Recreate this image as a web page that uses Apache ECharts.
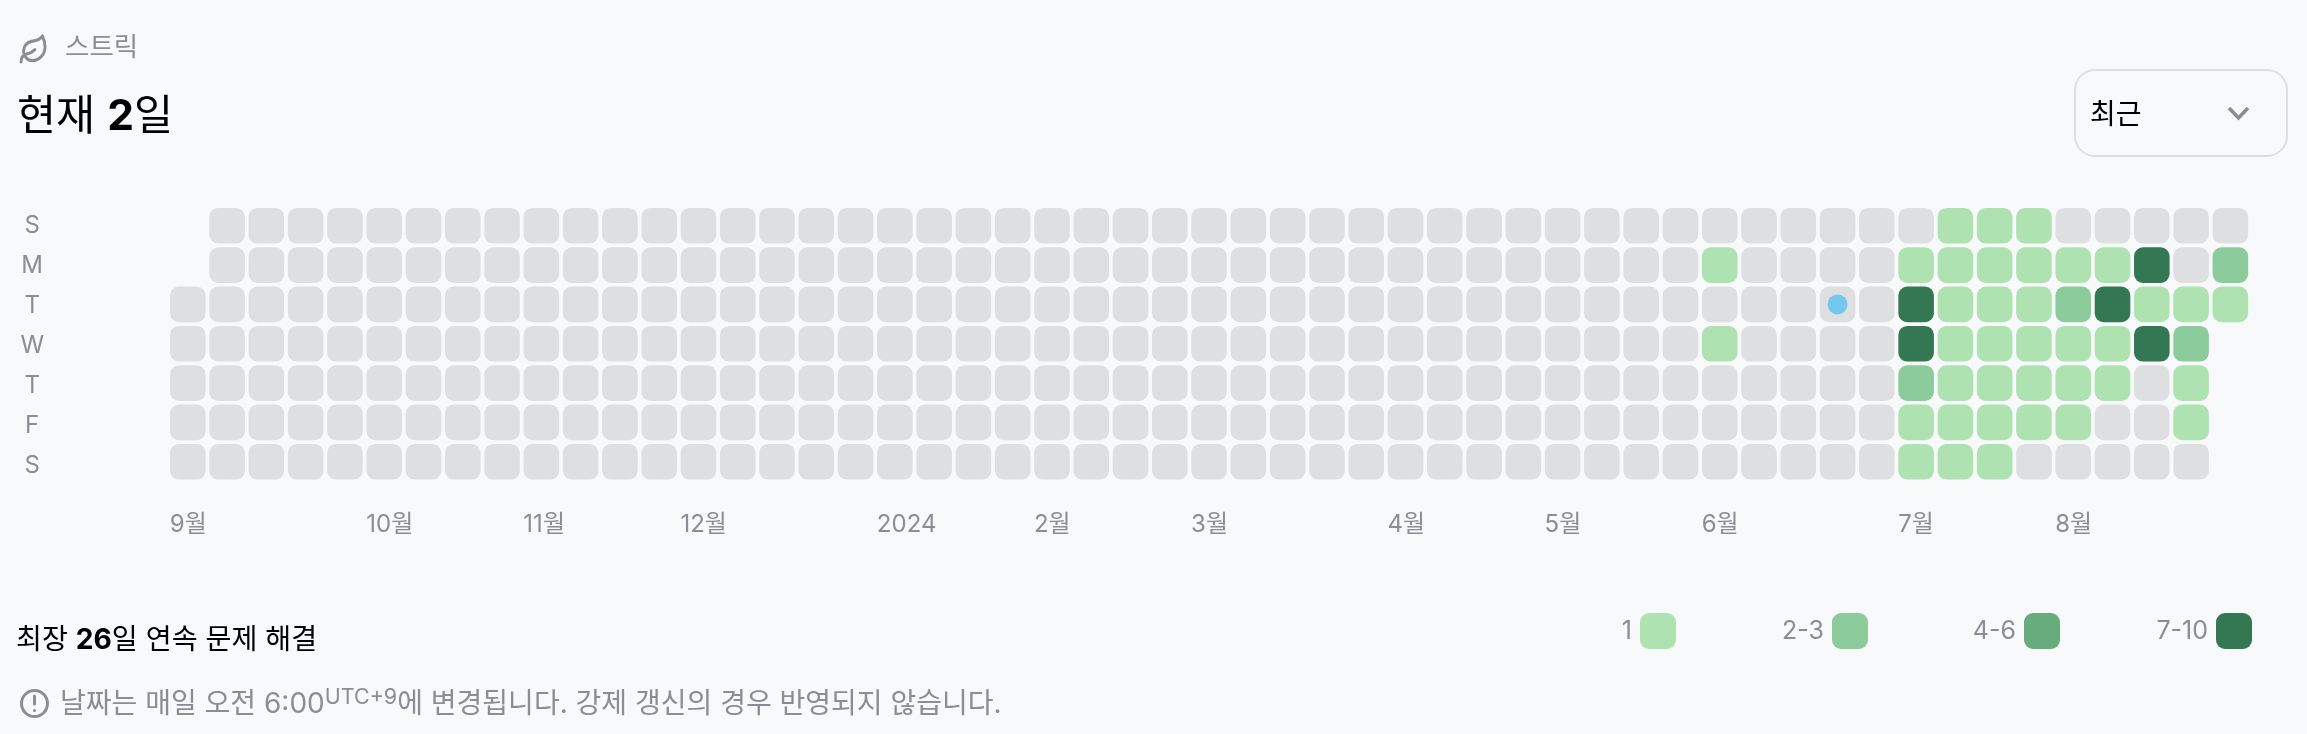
<!DOCTYPE html>
<html><head><meta charset="utf-8">
<style>html,body{margin:0;padding:0;background:#f8f9fa}#c{width:2307px;height:734px}</style>
<script src="https://cdn.jsdelivr.net/npm/echarts@6/dist/echarts.min.js"></script>
</head><body><div id="c"></div>
<script>
const weekdayLabels = ['S','M','T','W','T','F','S'];
const monthStarts = {0:'9월',5:'10월',9:'11월',13:'12월',18:'2024',22:'2월',26:'3월',31:'4월',35:'5월',39:'6월',44:'7월',48:'8월'};
const sunCounts = [null,0,0,0,0,0,0,0,0,0, 0,0,0,0,0,0,0,0,0,0, 0,0,0,0,0,0,0,0,0,0, 0,0,0,0,0,0,0,0,0,0, 0,0,0,0,0,1,1,1,0,0, 0,0,0];
const monCounts = [null,0,0,0,0,0,0,0,0,0, 0,0,0,0,0,0,0,0,0,0, 0,0,0,0,0,0,0,0,0,0, 0,0,0,0,0,0,0,0,0,1, 0,0,0,0,1,1,1,1,1,1, 7,0,2];
const tueCounts = [0,0,0,0,0,0,0,0,0,0, 0,0,0,0,0,0,0,0,0,0, 0,0,0,0,0,0,0,0,0,0, 0,0,0,0,0,0,0,0,0,0, 0,0,0,0,7,1,1,1,2,7, 1,1,1];
const wedCounts = [0,0,0,0,0,0,0,0,0,0, 0,0,0,0,0,0,0,0,0,0, 0,0,0,0,0,0,0,0,0,0, 0,0,0,0,0,0,0,0,0,1, 0,0,0,0,7,1,1,1,1,1, 7,2,null];
const thuCounts = [0,0,0,0,0,0,0,0,0,0, 0,0,0,0,0,0,0,0,0,0, 0,0,0,0,0,0,0,0,0,0, 0,0,0,0,0,0,0,0,0,0, 0,0,0,0,2,1,1,1,1,1, 0,1,null];
const friCounts = [0,0,0,0,0,0,0,0,0,0, 0,0,0,0,0,0,0,0,0,0, 0,0,0,0,0,0,0,0,0,0, 0,0,0,0,0,0,0,0,0,0, 0,0,0,0,1,1,1,1,1,0, 0,1,null];
const satCounts = [0,0,0,0,0,0,0,0,0,0, 0,0,0,0,0,0,0,0,0,0, 0,0,0,0,0,0,0,0,0,0, 0,0,0,0,0,0,0,0,0,0, 0,0,0,0,1,1,1,0,0,0, 0,0,null];
const today = [42, 2];
const levels = [
  {name:'0', min:0, max:0, color:'#dedfe1'},
  {name:'1', min:1, max:1, color:'#aee3b1'},
  {name:'2-3', min:2, max:3, color:'#8ccb9b'},
  {name:'4-6', min:4, max:6, color:'#68ac7e'},
  {name:'7-10', min:7, max:10, color:'#347853'}
];
const rows = [sunCounts,monCounts,tueCounts,wedCounts,thuCounts,friCounts,satCounts];
const weeks = sunCounts.map((_, i) => String(i));
const rowIds = weekdayLabels.map((_, i) => String(i));
const FONT = 'Inter, "Noto Sans CJK KR", sans-serif';
const GRAY = '#8b8d94';
echarts.graphic.registerShape('leaf', echarts.graphic.extendPath('M11 20A7 7 0 0 1 9.8 6.1C15.5 5 17 4.48 19 2c1 2 2 4.18 2 8 0 5.5-4.78 10-10 10Z M2 21c0-3 1.85-5.36 5.08-6C9.5 14.52 12 13 13 12', {}));
const series = levels.map(l => {
  const data = [];
  rows.forEach((r, y) => r.forEach((v, x) => { if (v !== null && v >= l.min && v <= l.max) data.push([x, y, v]); }));
  return {name:l.name, type:'scatter', symbol:'roundRect', symbolSize:35.6, data, itemStyle:{color:l.color, opacity:1}, silent:true};
});
series.push({name:'today', type:'scatter', symbol:'circle', symbolSize:20, data:[today], itemStyle:{color:'#74c7ee', opacity:1}, z:5, silent:true});
const legendRight = {'1':631,'2-3':439,'4-6':247,'7-10':55};
const legends = Object.keys(legendRight).map(n => ({
  data:[n], right:legendRight[n], top:613, align:'right', orient:'horizontal', padding:0,
  itemWidth:36, itemHeight:36, icon:'roundRect', selectedMode:false,
  itemStyle:{opacity:1},
  textStyle:{color:GRAY, fontSize:25, fontFamily:FONT, padding:[2,3,0,0]}
}));
const ringStyle = {stroke:GRAY, fill:'none', lineWidth:3, lineCap:'round', lineJoin:'round'};
const hiddenAxis = {axisLine:{show:false}, axisTick:{show:false}, splitLine:{show:false}};
const option = {
  backgroundColor:'#f8f9fa', animation:false,
  textStyle:{fontFamily:FONT},
  grid:[
    {left:168.2, top:206.1, width:2081.8, height:275.3, containLabel:false},
    {left:168.2, top:205.5, width:2081.8, height:280, containLabel:false}
  ],
  xAxis:[
    Object.assign({type:'category', gridIndex:0, data:weeks, position:'bottom',
      axisLabel:{interval:0, margin:31, hideOverlap:false, color:GRAY, fontSize:24, fontFamily:FONT,
        formatter:v => monthStarts[v] ? '{a|'+monthStarts[v]+'}' : '',
        rich:{a:{width:36, align:'left', color:GRAY, fontSize:24, fontFamily:FONT}}}}, hiddenAxis),
    {type:'category', gridIndex:1, data:weeks, show:false}
  ],
  yAxis:[
    Object.assign({type:'category', gridIndex:0, data:rowIds, inverse:true, axisLabel:{show:false}}, hiddenAxis),
    Object.assign({type:'category', gridIndex:1, data:weekdayLabels, inverse:true,
      axisLabel:{interval:0, margin:136, align:'center', color:GRAY, fontSize:24, fontFamily:FONT}}, hiddenAxis)
  ],
  legend:legends,
  series,
  graphic:[
    {type:'leaf', silent:true, x:18.5, y:33.3, scaleX:1.263, scaleY:1.368, style:{stroke:GRAY, fill:'none', lineWidth:2.3, lineCap:'round', lineJoin:'round'}},
    {type:'text', silent:true, x:65, y:48, style:{text:'스트릭', fill:GRAY, font:'26.5px '+FONT, verticalAlign:'middle'}},
    {type:'text', silent:true, x:17, y:117, style:{text:'{n|현재 }{b|2}{n|일}', verticalAlign:'middle', rich:{
      n:{fontSize:42.5, fontFamily:FONT, fill:'#000', fontWeight:400}, b:{fontSize:42.5, fontFamily:FONT, fill:'#000', fontWeight:700}}}},
    {type:'rect', silent:true, shape:{x:2075, y:70, width:212, height:86, r:20}, style:{fill:'none', stroke:'#dedfe1', lineWidth:2}},
    {type:'text', silent:true, x:2090, y:116, style:{text:'최근', fill:'#000', font:'28px '+FONT, verticalAlign:'middle'}},
    {type:'polyline', silent:true, shape:{points:[[2229,108],[2238.5,118],[2248,108]]}, style:{stroke:GRAY, fill:'none', lineWidth:3.6}},
    {type:'text', silent:true, x:16, y:641, style:{text:'{n|최장 }{b|26}{n|일 연속 문제 해결}', verticalAlign:'middle', rich:{
      n:{fontSize:28.2, fontFamily:FONT, fill:'#000', fontWeight:400}, b:{fontSize:28.2, fontFamily:FONT, fill:'#000', fontWeight:700}}}},
    {type:'circle', silent:true, shape:{cx:34.5, cy:703.5, r:13}, style:ringStyle},
    {type:'line', silent:true, shape:{x1:34.5, y1:696, x2:34.5, y2:704}, style:ringStyle},
    {type:'line', silent:true, shape:{x1:34.5, y1:710.5, x2:34.5, y2:710.6}, style:ringStyle},
    {type:'text', silent:true, x:60, y:705, style:{text:'{n|날짜는 매일 오전 6:00}{s|UTC+9}{n|에 변경됩니다. 강제 갱신의 경우 반영되지 않습니다.}', verticalAlign:'middle', rich:{
      n:{fontSize:28, fontFamily:FONT, fill:GRAY, lineHeight:36}, s:{fontSize:21.5, fontFamily:FONT, fill:GRAY, verticalAlign:'top', lineHeight:20}}}}
  ]
};
const chart = echarts.init(document.getElementById('c'), null, {renderer:'canvas'});
chart.setOption(option);
</script></body></html>
